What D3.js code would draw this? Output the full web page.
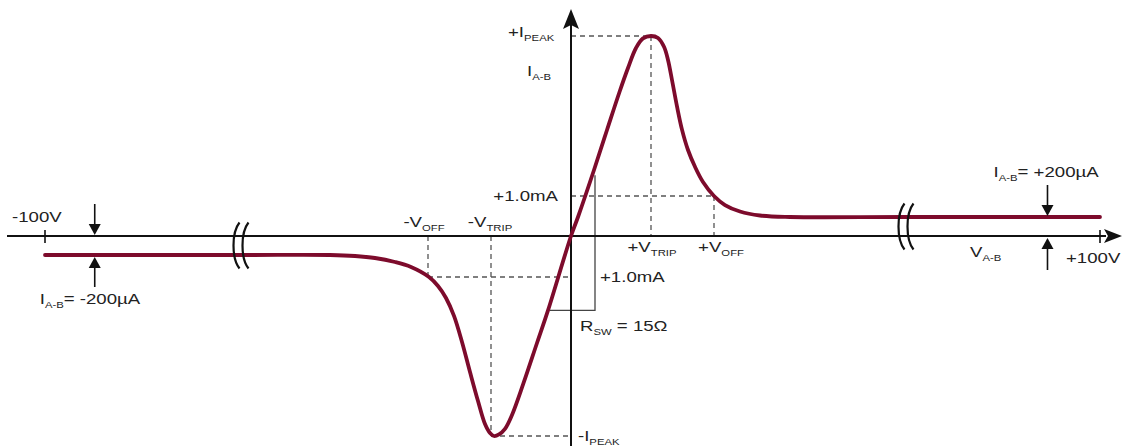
<!DOCTYPE html>
<html>
<head>
<meta charset="utf-8">
<script src="https://cdn.jsdelivr.net/npm/d3@7"></script>
<style>
  html, body { margin: 0; padding: 0; background: #fff; overflow: hidden; }
  svg { display: block; }
  text { font-family: "Liberation Sans", Arial, Helvetica, sans-serif; fill: #222; }
</style>
</head>
<body>
<svg id="chart" width="1122" height="446"></svg>
<script>
// I–V characteristic of the switch: terminal voltage V(A-B) in volts, current I(A-B) in mA
const voltage = [-100, -33, -24.1, -21.6, -19.6, -17.6, -16.0, -14.2, -13.3, -12.5, -11.7, -10.9, -10.1,
                 -9.3, -8.6, -8.1, -7.7, -7.2, -6.6, -5.9, -4.75, -3.4, -2.3, 0, 0.7, 2.3, 3.6, 4.85,
                 5.7, 6.5, 7.2, 8.0, 8.7, 9.3, 9.7, 10.1, 10.6, 11.1, 11.7, 12.4, 13.2, 14.3, 15.4,
                 16.9, 18.9, 21.9, 33.5, 100];
const current = [-0.2, -0.2, -0.2, -0.236, -0.309, -0.455, -0.636, -1.0, -1.226, -1.528, -1.98, -2.635, -3.39,
                 -4.12, -4.7, -4.925, -5.0, -4.96, -4.82, -4.47, -3.67, -2.66, -1.84, 0, 0.2, 1.65, 2.65, 3.6,
                 4.2, 4.7, 4.94, 5.0, 4.95, 4.73, 4.4, 3.9, 3.24, 2.66, 2.15, 1.73, 1.35, 1.0, 0.657,
                 0.41, 0.257, 0.2, 0.2, 0.2];

// Axis ticks and breaks (volts)
const axisTicks = [-100, 100];
const axisTickLabels = ["-100V", "+100V"];
const axisBreaks = [-33, 33.5];

// Characteristic points
const vTrip = 8.0;
const vOff = 14.3;
const iPeak = 5.0;
const iRef = 1.0;
const iHold = 0.2;
const holdMarkers = [-83, 82];

// On-resistance slope triangle (volts, mA)
const rswV = [-2.1, 2.4];
const rswI = [-1.84, 1.52];

const svg = d3.select("#chart");

// Broken voltage axis: compressed outer spans, expanded centre
const x = d3.scaleLinear()
  .domain([-100, axisBreaks[0], axisBreaks[1], 100])
  .range([45, 241, 906, 1100]);

// Schematic current axis: hold level, reference and peak on separate spans
const y = d3.scaleLinear()
  .domain([-iPeak, -iRef, -iHold, 0, iHold, iRef, iPeak])
  .range([436, 277, 255, 236, 217, 196, 36]);

const ink = "#111";
const guide = "#555";
const curveColor = "#7d0b2c";

// Dashed guide lines
const guides = [
  [[0, iPeak], [vTrip, iPeak]],
  [[vTrip, iPeak], [vTrip, 0]],
  [[0, iRef], [vOff, iRef]],
  [[vOff, iRef], [vOff, 0]],
  [[-vOff, 0], [-vOff, -iRef]],
  [[-vOff, -iRef], [0, -iRef]],
  [[-vTrip, 0], [-vTrip, -iPeak]],
  [[-vTrip, -iPeak], [0, -iPeak]]
];
svg.append("g").selectAll("line").data(guides).join("line")
  .attr("x1", d => x(d[0][0])).attr("y1", d => y(d[0][1]))
  .attr("x2", d => x(d[1][0])).attr("y2", d => y(d[1][1]))
  .attr("stroke", guide).attr("stroke-width", 1.3).attr("stroke-dasharray", "5,4");

// Slope triangle for R_SW
svg.append("path")
  .attr("d", `M${x(rswV[1])},${y(rswI[1])}L${x(rswV[1])},${y(rswI[0])}L${x(rswV[0])},${y(rswI[0])}`)
  .attr("fill", "none").attr("stroke", "#444").attr("stroke-width", 1.3);

// Axes
const x0 = x(0), y0 = y(0);
svg.append("line").attr("x1", 7).attr("x2", 1106).attr("y1", y0).attr("y2", y0)
  .attr("stroke", ink).attr("stroke-width", 2);
svg.append("path").attr("d", `M1122,${y0}L1104,${y0 - 7}L1108,${y0}L1104,${y0 + 7}Z`).attr("fill", ink);
svg.append("line").attr("x1", x0).attr("x2", x0).attr("y1", 446).attr("y2", 24)
  .attr("stroke", ink).attr("stroke-width", 2);
svg.append("path").attr("d", `M${x0},9L${x0 + 8},29L${x0},25L${x0 - 8},29Z`).attr("fill", ink);

// End ticks
svg.append("g").selectAll("line").data(axisTicks).join("line")
  .attr("x1", d => x(d)).attr("x2", d => x(d))
  .attr("y1", y0 - 6).attr("y2", y0 + 7)
  .attr("stroke", ink).attr("stroke-width", 1.6);

// The characteristic curve
const line = d3.line().x(d => x(d[0])).y(d => y(d[1])).curve(d3.curveCatmullRom.alpha(0.5));
svg.append("path")
  .datum(voltage.map((v, i) => [v, current[i]]))
  .attr("d", line)
  .attr("fill", "none").attr("stroke", curveColor).attr("stroke-width", 3.8)
  .attr("stroke-linecap", "round").attr("stroke-linejoin", "round");

// Axis break marks
axisBreaks.forEach((b, i) => {
  const cy = (y0 + y(i === 0 ? -iHold : iHold)) / 2;
  const h = 23;
  [-4.5, 4.5].forEach(off => {
    const cx = x(b) + off;
    svg.append("path")
      .attr("d", `M${cx + 3},${cy - h} C${cx - 5},${cy - h + 10} ${cx - 5},${cy + h - 10} ${cx + 3},${cy + h}`)
      .attr("fill", "none").attr("stroke", ink).attr("stroke-width", 2.2);
  });
});

// Hold-current markers: arrows pointing at the gap between axis and level
function arrow(xp, yFrom, yTip) {
  const dir = yTip > yFrom ? 1 : -1;
  svg.append("line").attr("x1", xp).attr("x2", xp).attr("y1", yFrom).attr("y2", yTip - dir * 8)
    .attr("stroke", ink).attr("stroke-width", 1.6);
  svg.append("path")
    .attr("d", `M${xp},${yTip}L${xp - 6},${yTip - dir * 11}L${xp + 6},${yTip - dir * 11}Z`)
    .attr("fill", ink);
}
arrow(x(holdMarkers[0]), y0 - 32, y0 - 1);
arrow(x(holdMarkers[0]), y(-iHold) + 32, y(-iHold) + 2);
arrow(x(holdMarkers[1]), y(iHold) - 32, y(iHold) - 1);
arrow(x(holdMarkers[1]), y0 + 34, y0 + 2);

// Labels with subscripts; glyphs widened horizontally
function label(px, py, parts, anchor) {
  const g = svg.append("g").attr("transform", `translate(${px},${py}) scale(1.33,1)`);
  const t = g.append("text").attr("text-anchor", anchor || "start").attr("font-size", 14);
  parts.forEach((p, i) => {
    const s = t.append("tspan").text(p[0]);
    if (p[1]) s.attr("font-size", 8.5).attr("dy", 4);
    else if (i > 0 && parts[i - 1][1]) s.attr("dy", -4);
  });
}

label(x0 - 63, y(iPeak) + 1, [["+I"], ["PEAK", 1]]);
label(x0 - 44, 76, [["I"], ["A-B", 1]]);
label(x0 - 13, y(iRef) + 5, [["+1.0mA"]], "end");
label(x(-vOff) - 4, y0 - 9, [["-V"], ["OFF", 1]], "middle");
label(x(-vTrip) - 1, y0 - 9, [["-V"], ["TRIP", 1]], "middle");
label(x(vTrip) + 1, y0 + 16, [["+V"], ["TRIP", 1]], "middle");
label(x(vOff) + 7, y0 + 16, [["+V"], ["OFF", 1]], "middle");
label(x0 + 29, y(-iRef) + 5, [["+1.0mA"]]);
label(x0 + 9, 331, [["R"], ["SW", 1], [" = 15\u03A9"]]);
label(x0 + 7, y(-iPeak) + 5, [["-I"], ["PEAK", 1]]);
label(x(axisTicks[0]) - 33, y0 - 14, [[axisTickLabels[0]]]);
label(x(axisTicks[1]) - 34, y0 + 27, [[axisTickLabels[1]]]);
label(x(holdMarkers[0]) - 55, 304, [["I"], ["A-B", 1], ["= -200\u00B5A"]]);
label(x(holdMarkers[1]) - 54, 177, [["I"], ["A-B", 1], ["= +200\u00B5A"]]);
label(970, 257, [["V"], ["A-B", 1]]);
</script>
</body>
</html>
